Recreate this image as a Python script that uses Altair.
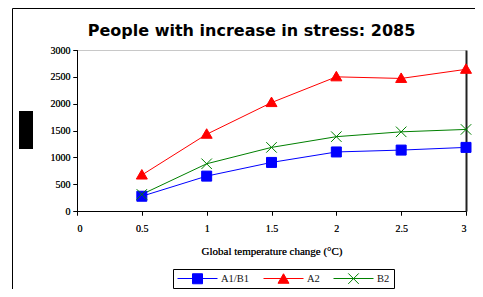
import altair as alt
import pandas as pd

# ---- data ----
temps = [0.5, 1.0, 1.5, 2.0, 2.5, 3.0]
a1b1 = [275, 650, 905, 1100, 1135, 1185]
a2 = [670, 1430, 2020, 2500, 2470, 2640]
b2 = [310, 880, 1185, 1385, 1475, 1520]
series_names = ["A1/B1", "A2", "B2"]
colors = ["#0000FF", "#FF0000", "#008000"]
x_ticks = [0, 0.5, 1, 1.5, 2, 2.5, 3]
y_ticks = [0, 500, 1000, 1500, 2000, 2500, 3000]

title_text = "People with increase in stress: 2085"
x_title = "Global temperature change (\u00b0C)"

rows = []
for name, vals in zip(series_names, [a1b1, a2, b2]):
    for t, v in zip(temps, vals):
        rows.append({"t": t, "v": v, "series": name, "series2": name})
df = pd.DataFrame(rows)

# marker paths (the leading moveTo pair only widens the legend entry bounds)
shape_paths = [
    "M-4,0M4,0M-1,-1H1V1H-1Z",
    "M-4,0M4,0M0,-1.1L1.1,0.8H-1.1Z",
    "M-4,0M4,0M-1.05,-1.05L1.05,1.05M-1.05,1.05L1.05,-1.05",
]
legend_line_path = "M-4,0H4"

FONT = "Liberation Serif"
W, H = 389, 161
SW = 1

xs = alt.Scale(domain=[0, 3], nice=False)
ys = alt.Scale(domain=[0, 3000], nice=False)

x_axis = alt.Axis(values=x_ticks, format="~g", title=x_title, grid=False,
                  domainColor="#000", tickColor="#000", tickSize=4,
                  labelFont=FONT, labelFontSize=10, labelColor="#111",
                  labelPadding=8, titleFont=FONT, titleFontSize=11,
                  titleFontWeight="normal", titleColor="#111", titlePadding=12)
y_axis = alt.Axis(values=y_ticks, format="d", title=None, grid=False,
                  domainColor="#000", tickColor="#000", tickSize=4,
                  labelFont=FONT, labelFontSize=10, labelColor="#111",
                  labelPadding=3)

legend_common = dict(orient="none", legendX=96, legendY=219, direction="horizontal",
                     title=None, symbolSize=100, symbolOffset=15, labelOffset=18,
                     symbolStrokeWidth=SW,
                     labelFont=FONT, labelFontSize=10.5, labelColor="#111",
                     columnPadding=11, padding=4)

# colour scale takes its domain from the data (sorted), so its legend stays separate
line_layer = alt.Chart(df).mark_line(strokeWidth=SW).encode(
    x=alt.X("t:Q", scale=xs, axis=x_axis),
    y=alt.Y("v:Q", scale=ys, axis=y_axis),
    color=alt.Color("series:N",
                    scale=alt.Scale(range=colors),
                    legend=alt.Legend(symbolType=legend_line_path,
                                      strokeColor="#000", zindex=1, **legend_common)),
)

pt_legend = alt.Legend(zindex=2, labelOpacity=0, **legend_common)
point_layer = alt.Chart(df).mark_point(filled=True, size=100, strokeWidth=SW, opacity=1).encode(
    x=alt.X("t:Q", scale=xs, axis=x_axis),
    y=alt.Y("v:Q", scale=ys, axis=y_axis),
    shape=alt.Shape("series2:N", scale=alt.Scale(domain=series_names, range=shape_paths), legend=pt_legend),
    fill=alt.Fill("series2:N", scale=alt.Scale(domain=series_names, range=colors), legend=pt_legend),
    stroke=alt.Stroke("series2:N", scale=alt.Scale(domain=series_names, range=colors), legend=pt_legend),
)

frame_layer = alt.Chart(df).mark_line(opacity=0).encode(
    x=alt.X("t:Q", scale=xs, axis=alt.Axis(orient="top", labels=False, ticks=False, title=None,
                                           grid=False, domainColor="#c8c8c8", domainWidth=1)),
    y=alt.Y("v:Q", scale=ys, axis=alt.Axis(orient="right", labels=False, ticks=False, title=None,
                                           grid=False, domainColor="#222", domainWidth=2)),
)

deco = pd.DataFrame({"k": [0]})
block = alt.Chart(deco).mark_rect(color="#000").encode(
    x=alt.value(-58), x2=alt.value(-44), y=alt.value(61), y2=alt.value(99))
outer = alt.Chart(deco).mark_rect(fill=None, stroke="#000", strokeWidth=1).encode(
    x=alt.value(-64.5), x2=alt.value(430), y=alt.value(-41.5), y2=alt.value(300))

chart = alt.layer(frame_layer, line_layer, point_layer, block, outer).resolve_axis(
    x="independent", y="independent"
).properties(
    width=W, height=H,
    title=alt.TitleParams(title_text, font="DejaVu Sans", fontSize=16, fontWeight="bold",
                          color="#000", anchor="middle", frame="group", dx=-20, dy=43, offset=12),
    autosize=alt.AutoSizeParams(type="none"),
    padding={"left": 69, "top": 42, "right": 9, "bottom": 78},
).configure_view(stroke=None).configure(background="#ffffff")

chart.save("out.html", embed_options={"renderer": "svg", "actions": False})
